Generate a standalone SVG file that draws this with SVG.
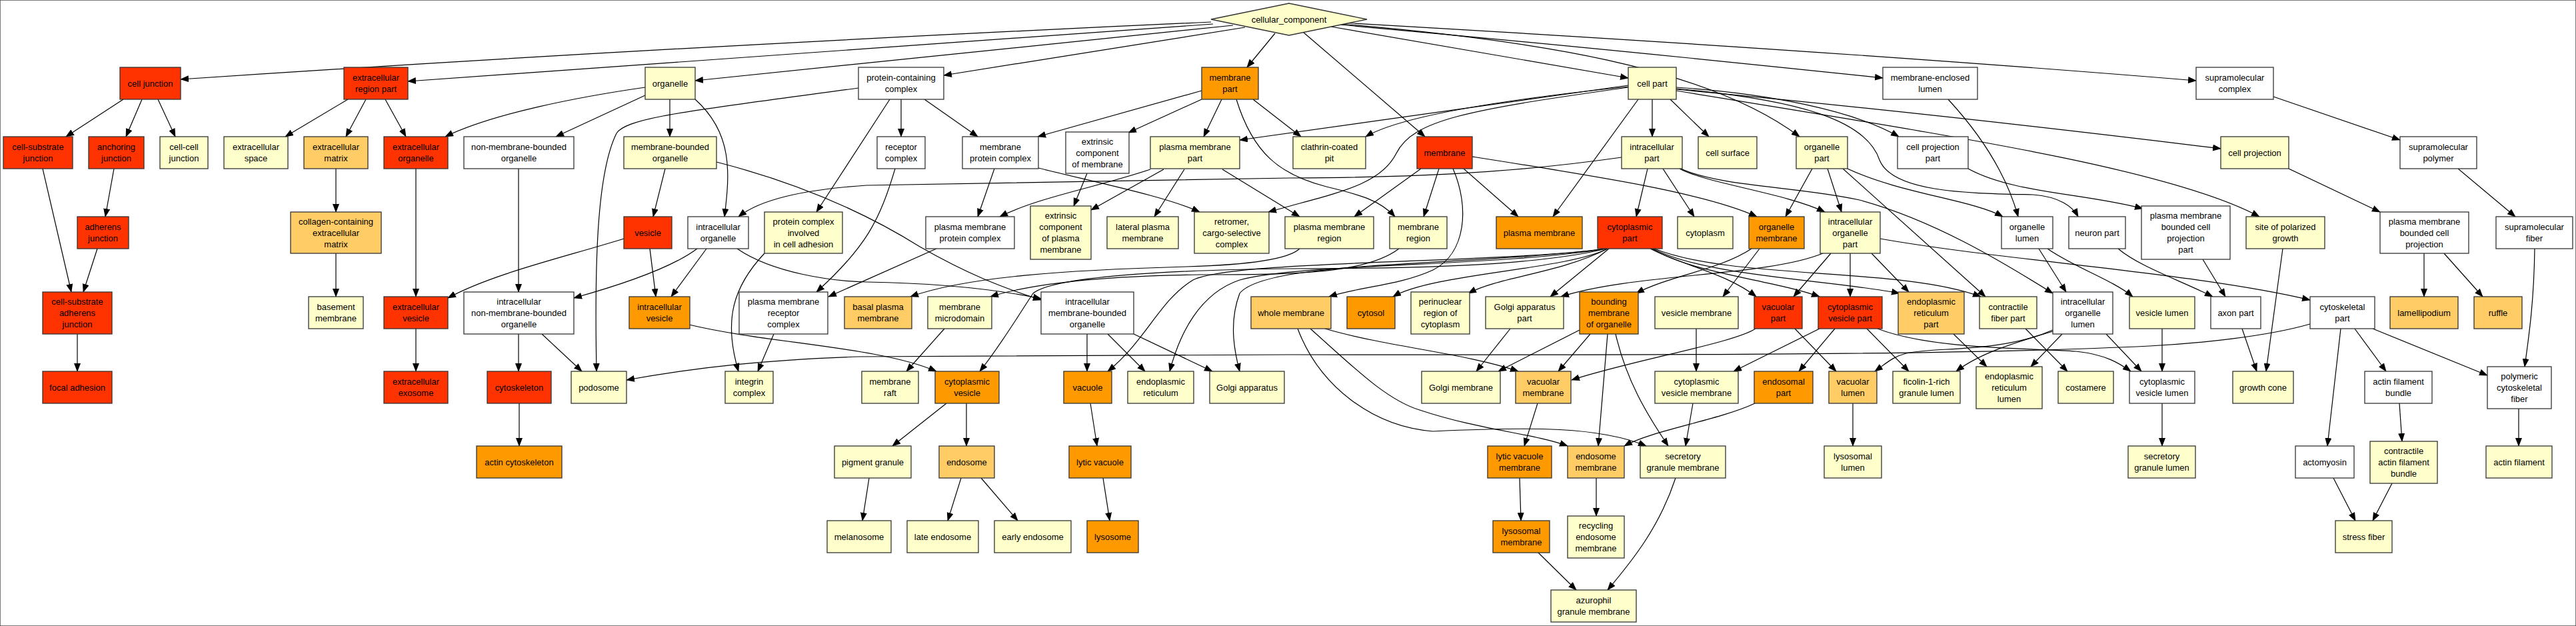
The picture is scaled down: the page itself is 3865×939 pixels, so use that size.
<svg xmlns="http://www.w3.org/2000/svg" width="3865" height="939" viewBox="0 0 3865 939">
<style>
rect,polygon{stroke:#333;stroke-width:1.3}
.r{fill:#FF3300}.o{fill:#FF9900}.lo{fill:#FFCC66}.y{fill:#FFFFCC}.w{fill:#FFFFFF}
text{font-family:"Liberation Sans",Arial,sans-serif;font-size:13px;text-anchor:middle;fill:#000}
#edges path{fill:none;stroke:#000;stroke-width:1.2;marker-end:url(#ah)}
</style>
<defs>
<marker id="ah" markerWidth="13" markerHeight="10" refX="12" refY="5" orient="auto" markerUnits="userSpaceOnUse"><path d="M0,0 L13,5 L0,10 z" fill="#000" stroke="none"/></marker>
</defs>
<rect x="0" y="0" width="3865" height="939" fill="#fff" stroke="none"/>
<g id="edges">
<path d="M1817,33 Q1000,70 271,119"/>
<path d="M1820,36 Q1100,85 612,122"/>
<path d="M1850,38 Q1500,75 1043,121"/>
<path d="M1868,41 L1416,113"/>
<path d="M1913,50 L1871,101"/>
<path d="M1955,48 L2138,205"/>
<path d="M1997,40 L2443,117"/>
<path d="M2009,37 Q2400,72 2825,117"/>
<path d="M2012,34 Q2750,76 3295,121"/>
<path d="M2012,36 C2300,60 2560,100 2700,205"/>
<path d="M185,149 L99,205"/>
<path d="M213,149 L189,205"/>
<path d="M237,149 L263,205"/>
<path d="M522,149 L428,205"/>
<path d="M549,149 L519,205"/>
<path d="M578,149 L609,205"/>
<path d="M968,131 C870,145 740,170 668,205"/>
<path d="M968,143 L834,205"/>
<path d="M1005,149 L1005,205"/>
<path d="M1043,149 C1100,200 1095,260 1087,325"/>
<path d="M1288,132 C1050,165 940,175 925,200 C895,260 892,400 895,557"/>
<path d="M1352,149 L1352,205"/>
<path d="M1387,149 L1467,205"/>
<path d="M1335,149 L1225,318"/>
<path d="M1803,136 L1557,205"/>
<path d="M1803,149 L1693,199"/>
<path d="M1833,149 L1806,205"/>
<path d="M1880,149 L1952,205"/>
<path d="M1855,149 C1880,230 1920,262 1990,280 C2040,292 2070,300 2093,325"/>
<path d="M2443,130 C2250,150 2100,175 2049,205"/>
<path d="M2443,128 L1860,210"/>
<path d="M2443,131 C2200,165 2120,180 2095,230 C2070,280 2000,290 1903,318"/>
<path d="M2479,149 L2479,205"/>
<path d="M2506,149 L2564,205"/>
<path d="M2458,149 L2330,325"/>
<path d="M2515,131 C2650,140 2780,165 2849,205"/>
<path d="M2515,133 C2700,150 2800,180 2820,240 C2840,290 2960,290 3050,292 C3090,295 3110,310 3118,325"/>
<path d="M2515,134 Q2900,170 3332,223"/>
<path d="M2515,136 C2900,200 3250,250 3390,325"/>
<path d="M2433,236 C2250,262 2100,266 1935,267 L1300,278 C1200,285 1140,300 1108,325"/>
<path d="M2472,253 L2455,325"/>
<path d="M2495,253 L2542,325"/>
<path d="M2520,253 C2560,275 2680,290 2738,318"/>
<path d="M2522,253 C2580,280 2700,280 2790,300 C2900,330 3000,390 3080,440"/>
<path d="M2132,253 L2032,325"/>
<path d="M2159,253 L2136,325"/>
<path d="M2196,253 L2278,325"/>
<path d="M2180,253 C2205,310 2200,380 2150,405 C2100,428 2040,430 1994,445"/>
<path d="M2209,235 C2400,265 2560,290 2636,325"/>
<path d="M3411,145 L3601,210"/>
<path d="M3434,253 L3571,318"/>
<path d="M3688,253 L3774,325"/>
<path d="M2719,253 L2679,325"/>
<path d="M2742,253 L2763,318"/>
<path d="M2765,253 L2979,445"/>
<path d="M2772,253 C2850,290 2960,300 3005,325"/>
<path d="M2923,149 C2970,200 3010,260 3028,325"/>
<path d="M2953,253 C3020,290 3130,290 3215,313"/>
<path d="M504,253 L504,318"/>
<path d="M624,253 L624,445"/>
<path d="M504,380 L504,445"/>
<path d="M64,253 L107,438"/>
<path d="M171,253 L158,325"/>
<path d="M146,373 L125,438"/>
<path d="M116,501 L116,557"/>
<path d="M624,493 L624,557"/>
<path d="M778,253 L778,438"/>
<path d="M998,253 L980,325"/>
<path d="M1075,243 C1200,275 1300,320 1380,370 C1450,410 1500,430 1562,450"/>
<path d="M1046,373 C1010,400 940,425 861,447"/>
<path d="M1060,373 L1007,445"/>
<path d="M1106,373 C1160,410 1250,422 1300,423 C1420,425 1500,435 1562,448"/>
<path d="M936,358 C850,385 740,410 672,447"/>
<path d="M975,373 L984,445"/>
<path d="M1147,380 C1100,430 1085,480 1108,557"/>
<path d="M1343,253 C1320,330 1300,370 1225,438"/>
<path d="M1405,373 L1243,445"/>
<path d="M1492,253 L1467,325"/>
<path d="M1558,252 C1650,275 1750,295 1800,318"/>
<path d="M1631,260 L1611,309"/>
<path d="M1746,254 L1637,315"/>
<path d="M1777,254 L1732,325"/>
<path d="M1726,254 C1650,280 1560,295 1500,325"/>
<path d="M1834,254 L1950,325"/>
<path d="M1950,373 C1930,392 1850,398 1780,400 C1600,405 1450,415 1366,445"/>
<path d="M2099,373 C2050,410 1950,412 1800,412 C1650,414 1550,425 1486,445"/>
<path d="M2412,373 C2350,405 2150,410 2090,445"/>
<path d="M2412,373 C2340,410 2250,415 2203,440"/>
<path d="M2414,373 L2326,445"/>
<path d="M2410,373 C2300,400 2100,403 1935,403 C1750,405 1580,415 1550,440 C1530,470 1500,520 1470,557"/>
<path d="M2410,373 C2250,395 1850,390 1790,420 C1740,450 1720,510 1662,557"/>
<path d="M2410,373 C2250,400 1950,395 1860,420 C1800,440 1770,500 1755,557"/>
<path d="M2410,373 C2200,400 1900,390 1860,440 C1845,480 1850,520 1860,557"/>
<path d="M2476,373 C2530,400 2590,410 2635,445"/>
<path d="M2478,373 C2540,410 2660,420 2730,445"/>
<path d="M2480,373 C2560,415 2750,420 2850,440"/>
<path d="M2482,373 C2600,420 2850,400 2972,445"/>
<path d="M2628,373 C2580,405 2500,415 2455,440"/>
<path d="M2640,373 L2585,445"/>
<path d="M2735,380 C2650,415 2450,410 2342,445"/>
<path d="M2747,380 L2691,445"/>
<path d="M2776,380 L2776,445"/>
<path d="M2808,380 L2864,438"/>
<path d="M2821,358 C3000,390 3300,410 3466,450"/>
<path d="M3059,373 L3100,438"/>
<path d="M3072,373 C3110,400 3170,420 3200,445"/>
<path d="M3178,373 C3210,400 3270,420 3320,445"/>
<path d="M3305,389 L3339,445"/>
<path d="M3425,373 L3400,557"/>
<path d="M3637,380 L3637,445"/>
<path d="M3667,380 L3725,445"/>
<path d="M3803,373 C3802,450 3795,500 3788,550"/>
<path d="M778,501 L778,557"/>
<path d="M813,501 L873,557"/>
<path d="M1161,501 L1137,557"/>
<path d="M1034,487 C1150,515 1320,520 1405,557"/>
<path d="M1417,493 L1360,557"/>
<path d="M1631,501 L1631,557"/>
<path d="M1662,501 L1718,557"/>
<path d="M1701,501 L1819,557"/>
<path d="M3466,486 C3400,505 3300,515 3225,519 C2900,535 2300,532 1935,532 L1290,535 C1150,540 1050,550 940,570"/>
<path d="M3512,493 L3492,669"/>
<path d="M3533,493 L3580,557"/>
<path d="M3560,493 L3732,563"/>
<path d="M3244,493 L3244,557"/>
<path d="M3364,493 L3386,557"/>
<path d="M1988,493 C2080,520 2200,530 2278,557"/>
<path d="M1966,493 C2030,550 2080,600 2130,615 C2220,645 2300,650 2352,669"/>
<path d="M1947,493 C1980,580 2060,640 2150,647 C2300,640 2400,640 2470,669"/>
<path d="M2266,493 L2215,557"/>
<path d="M2370,495 L2248,557"/>
<path d="M2386,501 L2338,557"/>
<path d="M2412,501 L2398,669"/>
<path d="M2424,501 C2440,570 2470,620 2503,669"/>
<path d="M2634,493 C2600,515 2450,540 2358,570"/>
<path d="M2693,493 L2755,557"/>
<path d="M2545,493 L2545,557"/>
<path d="M2730,493 L2601,557"/>
<path d="M2753,493 L2699,557"/>
<path d="M2801,493 L2864,557"/>
<path d="M2817,493 C2900,525 3050,522 3115,527 C3160,532 3180,545 3197,557"/>
<path d="M2931,501 L2981,550"/>
<path d="M3039,493 L3102,557"/>
<path d="M3094,501 L3047,550"/>
<path d="M3080,497 C3020,515 2970,530 2935,557"/>
<path d="M3080,495 C3000,530 2900,520 2860,530 C2840,535 2830,545 2813,557"/>
<path d="M3160,501 L3213,557"/>
<path d="M779,605 L779,669"/>
<path d="M1420,605 L1339,669"/>
<path d="M1450,605 L1450,669"/>
<path d="M1636,605 L1646,669"/>
<path d="M2307,605 L2287,669"/>
<path d="M2633,605 C2580,630 2480,645 2437,669"/>
<path d="M2540,605 L2529,669"/>
<path d="M2780,605 L2780,669"/>
<path d="M3244,605 L3244,669"/>
<path d="M3600,605 L3604,662"/>
<path d="M3779,613 L3779,669"/>
<path d="M1304,717 L1294,781"/>
<path d="M1442,717 L1422,781"/>
<path d="M1472,717 L1527,781"/>
<path d="M1655,717 L1665,781"/>
<path d="M2280,717 L2282,781"/>
<path d="M2395,717 L2395,774"/>
<path d="M3501,717 L3534,781"/>
<path d="M3589,725 L3560,781"/>
<path d="M2308,829 L2365,885"/>
<path d="M2514,717 C2490,790 2450,840 2412,885"/>
</g>
<g id="cellular_component"><polygon class="y" points="1817,29 1934,5 2051,29 1934,53"/><text x="1934" y="33.5">cellular_component</text></g>
<g id="cell_junction"><rect class="r" x="180" y="101" width="91" height="48"/><text x="225.5" y="129.5">cell junction</text></g>
<g id="extracellular_region_part"><rect class="r" x="516" y="101" width="96" height="48"/><text x="564" y="121">extracellular</text><text x="564" y="138">region part</text></g>
<g id="organelle"><rect class="y" x="968" y="101" width="75" height="48"/><text x="1005.5" y="129.5">organelle</text></g>
<g id="protein_containing_complex"><rect class="w" x="1288" y="101" width="128" height="48"/><text x="1352" y="121">protein-containing</text><text x="1352" y="138">complex</text></g>
<g id="membrane_part"><rect class="o" x="1803" y="101" width="85" height="48"/><text x="1845.5" y="121">membrane</text><text x="1845.5" y="138">part</text></g>
<g id="cell_part"><rect class="y" x="2443" y="101" width="72" height="48"/><text x="2479" y="129.5">cell part</text></g>
<g id="membrane_enclosed_lumen"><rect class="w" x="2825" y="101" width="142" height="48"/><text x="2896" y="121">membrane-enclosed</text><text x="2896" y="138">lumen</text></g>
<g id="supramolecular_complex"><rect class="w" x="3295" y="101" width="116" height="48"/><text x="3353" y="121">supramolecular</text><text x="3353" y="138">complex</text></g>
<g id="cell_substrate_junction"><rect class="r" x="5" y="205" width="104" height="48"/><text x="57" y="225">cell-substrate</text><text x="57" y="242">junction</text></g>
<g id="anchoring_junction"><rect class="r" x="133" y="205" width="83" height="48"/><text x="174.5" y="225">anchoring</text><text x="174.5" y="242">junction</text></g>
<g id="cell_cell_junction"><rect class="y" x="240" y="205" width="72" height="48"/><text x="276" y="225">cell-cell</text><text x="276" y="242">junction</text></g>
<g id="extracellular_space"><rect class="y" x="336" y="205" width="96" height="48"/><text x="384" y="225">extracellular</text><text x="384" y="242">space</text></g>
<g id="extracellular_matrix"><rect class="lo" x="456" y="205" width="96" height="48"/><text x="504" y="225">extracellular</text><text x="504" y="242">matrix</text></g>
<g id="extracellular_organelle"><rect class="r" x="576" y="205" width="96" height="48"/><text x="624" y="225">extracellular</text><text x="624" y="242">organelle</text></g>
<g id="non_membrane_bounded_organelle"><rect class="w" x="696" y="205" width="165" height="48"/><text x="778.5" y="225">non-membrane-bounded</text><text x="778.5" y="242">organelle</text></g>
<g id="membrane_bounded_organelle"><rect class="y" x="936" y="205" width="139" height="48"/><text x="1005.5" y="225">membrane-bounded</text><text x="1005.5" y="242">organelle</text></g>
<g id="receptor_complex"><rect class="w" x="1316" y="205" width="72" height="48"/><text x="1352" y="225">receptor</text><text x="1352" y="242">complex</text></g>
<g id="membrane_protein_complex"><rect class="w" x="1444" y="205" width="114" height="48"/><text x="1501" y="225">membrane</text><text x="1501" y="242">protein complex</text></g>
<g id="extrinsic_component_of_membrane"><rect class="w" x="1599" y="198" width="95" height="62"/><text x="1646.5" y="216.5">extrinsic</text><text x="1646.5" y="233.5">component</text><text x="1646.5" y="250.5">of membrane</text></g>
<g id="plasma_membrane_part"><rect class="y" x="1726" y="205" width="134" height="48"/><text x="1793" y="225">plasma membrane</text><text x="1793" y="242">part</text></g>
<g id="clathrin_coated_pit"><rect class="y" x="1940" y="205" width="109" height="48"/><text x="1994.5" y="225">clathrin-coated</text><text x="1994.5" y="242">pit</text></g>
<g id="membrane"><rect class="r" x="2126" y="205" width="83" height="48"/><text x="2167.5" y="233.5">membrane</text></g>
<g id="intracellular_part"><rect class="y" x="2433" y="205" width="91" height="48"/><text x="2478.5" y="225">intracellular</text><text x="2478.5" y="242">part</text></g>
<g id="cell_surface"><rect class="y" x="2548" y="205" width="88" height="48"/><text x="2592" y="233.5">cell surface</text></g>
<g id="organelle_part"><rect class="y" x="2695" y="205" width="77" height="48"/><text x="2733.5" y="225">organelle</text><text x="2733.5" y="242">part</text></g>
<g id="cell_projection_part"><rect class="w" x="2847" y="205" width="106" height="48"/><text x="2900" y="225">cell projection</text><text x="2900" y="242">part</text></g>
<g id="cell_projection"><rect class="y" x="3332" y="205" width="102" height="48"/><text x="3383" y="233.5">cell projection</text></g>
<g id="supramolecular_polymer"><rect class="w" x="3601" y="205" width="115" height="48"/><text x="3658.5" y="225">supramolecular</text><text x="3658.5" y="242">polymer</text></g>
<g id="adherens_junction"><rect class="r" x="116" y="325" width="77" height="48"/><text x="154.5" y="345">adherens</text><text x="154.5" y="362">junction</text></g>
<g id="collagen_containing_extracellular_matrix"><rect class="lo" x="436" y="318" width="136" height="62"/><text x="504" y="336.5">collagen-containing</text><text x="504" y="353.5">extracellular</text><text x="504" y="370.5">matrix</text></g>
<g id="vesicle"><rect class="r" x="936" y="325" width="72" height="48"/><text x="972" y="353.5">vesicle</text></g>
<g id="intracellular_organelle"><rect class="w" x="1032" y="325" width="91" height="48"/><text x="1077.5" y="345">intracellular</text><text x="1077.5" y="362">organelle</text></g>
<g id="protein_complex_involved_in_cell_adhesion"><rect class="y" x="1147" y="318" width="117" height="62"/><text x="1205.5" y="336.5">protein complex</text><text x="1205.5" y="353.5">involved</text><text x="1205.5" y="370.5">in cell adhesion</text></g>
<g id="plasma_membrane_protein_complex"><rect class="w" x="1389" y="325" width="133" height="48"/><text x="1455.5" y="345">plasma membrane</text><text x="1455.5" y="362">protein complex</text></g>
<g id="extrinsic_component_of_plasma_membrane"><rect class="y" x="1546" y="309" width="91" height="80"/><text x="1591.5" y="328">extrinsic</text><text x="1591.5" y="345">component</text><text x="1591.5" y="362">of plasma</text><text x="1591.5" y="379">membrane</text></g>
<g id="lateral_plasma_membrane"><rect class="y" x="1661" y="325" width="107" height="48"/><text x="1714.5" y="345">lateral plasma</text><text x="1714.5" y="362">membrane</text></g>
<g id="retromer_cargo_selective_complex"><rect class="y" x="1792" y="318" width="112" height="62"/><text x="1848" y="336.5">retromer,</text><text x="1848" y="353.5">cargo-selective</text><text x="1848" y="370.5">complex</text></g>
<g id="plasma_membrane_region"><rect class="y" x="1928" y="325" width="133" height="48"/><text x="1994.5" y="345">plasma membrane</text><text x="1994.5" y="362">region</text></g>
<g id="membrane_region"><rect class="y" x="2085" y="325" width="86" height="48"/><text x="2128" y="345">membrane</text><text x="2128" y="362">region</text></g>
<g id="plasma_membrane"><rect class="o" x="2245" y="325" width="129" height="48"/><text x="2309.5" y="353.5">plasma membrane</text></g>
<g id="cytoplasmic_part"><rect class="r" x="2397" y="325" width="97" height="48"/><text x="2445.5" y="345">cytoplasmic</text><text x="2445.5" y="362">part</text></g>
<g id="cytoplasm"><rect class="y" x="2517" y="325" width="83" height="48"/><text x="2558.5" y="353.5">cytoplasm</text></g>
<g id="organelle_membrane"><rect class="o" x="2624" y="325" width="83" height="48"/><text x="2665.5" y="345">organelle</text><text x="2665.5" y="362">membrane</text></g>
<g id="intracellular_organelle_part"><rect class="y" x="2731" y="318" width="90" height="62"/><text x="2776" y="336.5">intracellular</text><text x="2776" y="353.5">organelle</text><text x="2776" y="370.5">part</text></g>
<g id="organelle_lumen"><rect class="w" x="3003" y="325" width="77" height="48"/><text x="3041.5" y="345">organelle</text><text x="3041.5" y="362">lumen</text></g>
<g id="neuron_part"><rect class="w" x="3104" y="325" width="85" height="48"/><text x="3146.5" y="353.5">neuron part</text></g>
<g id="plasma_membrane_bounded_cell_projection_part"><rect class="w" x="3213" y="309" width="133" height="80"/><text x="3279.5" y="328">plasma membrane</text><text x="3279.5" y="345">bounded cell</text><text x="3279.5" y="362">projection</text><text x="3279.5" y="379">part</text></g>
<g id="site_of_polarized_growth"><rect class="y" x="3370" y="325" width="118" height="48"/><text x="3429" y="345">site of polarized</text><text x="3429" y="362">growth</text></g>
<g id="plasma_membrane_bounded_cell_projection"><rect class="w" x="3571" y="318" width="133" height="62"/><text x="3637.5" y="336.5">plasma membrane</text><text x="3637.5" y="353.5">bounded cell</text><text x="3637.5" y="370.5">projection</text></g>
<g id="supramolecular_fiber"><rect class="w" x="3745" y="325" width="115" height="48"/><text x="3802.5" y="345">supramolecular</text><text x="3802.5" y="362">fiber</text></g>
<g id="cell_substrate_adherens_junction"><rect class="r" x="64" y="438" width="104" height="63"/><text x="116" y="457">cell-substrate</text><text x="116" y="474">adherens</text><text x="116" y="491">junction</text></g>
<g id="basement_membrane"><rect class="y" x="463" y="445" width="82" height="48"/><text x="504" y="465">basement</text><text x="504" y="482">membrane</text></g>
<g id="extracellular_vesicle"><rect class="r" x="576" y="445" width="96" height="48"/><text x="624" y="465">extracellular</text><text x="624" y="482">vesicle</text></g>
<g id="intracellular_non_membrane_bounded_organelle"><rect class="w" x="696" y="438" width="165" height="63"/><text x="778.5" y="457">intracellular</text><text x="778.5" y="474">non-membrane-bounded</text><text x="778.5" y="491">organelle</text></g>
<g id="intracellular_vesicle"><rect class="o" x="944" y="445" width="91" height="48"/><text x="989.5" y="465">intracellular</text><text x="989.5" y="482">vesicle</text></g>
<g id="plasma_membrane_receptor_complex"><rect class="w" x="1109" y="438" width="133" height="63"/><text x="1175.5" y="457">plasma membrane</text><text x="1175.5" y="474">receptor</text><text x="1175.5" y="491">complex</text></g>
<g id="basal_plasma_membrane"><rect class="lo" x="1267" y="445" width="101" height="48"/><text x="1317.5" y="465">basal plasma</text><text x="1317.5" y="482">membrane</text></g>
<g id="membrane_microdomain"><rect class="y" x="1392" y="445" width="96" height="48"/><text x="1440" y="465">membrane</text><text x="1440" y="482">microdomain</text></g>
<g id="intracellular_membrane_bounded_organelle"><rect class="w" x="1562" y="438" width="139" height="63"/><text x="1631.5" y="457">intracellular</text><text x="1631.5" y="474">membrane-bounded</text><text x="1631.5" y="491">organelle</text></g>
<g id="whole_membrane"><rect class="lo" x="1877" y="445" width="120" height="48"/><text x="1937" y="473.5">whole membrane</text></g>
<g id="cytosol"><rect class="o" x="2021" y="445" width="72" height="48"/><text x="2057" y="473.5">cytosol</text></g>
<g id="perinuclear_region_of_cytoplasm"><rect class="y" x="2117" y="438" width="88" height="63"/><text x="2161" y="457">perinuclear</text><text x="2161" y="474">region of</text><text x="2161" y="491">cytoplasm</text></g>
<g id="golgi_apparatus_part"><rect class="y" x="2229" y="445" width="117" height="48"/><text x="2287.5" y="465">Golgi apparatus</text><text x="2287.5" y="482">part</text></g>
<g id="bounding_membrane_of_organelle"><rect class="o" x="2370" y="438" width="88" height="63"/><text x="2414" y="457">bounding</text><text x="2414" y="474">membrane</text><text x="2414" y="491">of organelle</text></g>
<g id="vesicle_membrane"><rect class="y" x="2483" y="445" width="125" height="48"/><text x="2545.5" y="473.5">vesicle membrane</text></g>
<g id="vacuolar_part"><rect class="r" x="2632" y="445" width="72" height="48"/><text x="2668" y="465">vacuolar</text><text x="2668" y="482">part</text></g>
<g id="cytoplasmic_vesicle_part"><rect class="r" x="2728" y="445" width="96" height="48"/><text x="2776" y="465">cytoplasmic</text><text x="2776" y="482">vesicle part</text></g>
<g id="endoplasmic_reticulum_part"><rect class="lo" x="2848" y="438" width="99" height="63"/><text x="2897.5" y="457">endoplasmic</text><text x="2897.5" y="474">reticulum</text><text x="2897.5" y="491">part</text></g>
<g id="contractile_fiber_part"><rect class="y" x="2970" y="445" width="86" height="48"/><text x="3013" y="465">contractile</text><text x="3013" y="482">fiber part</text></g>
<g id="intracellular_organelle_lumen"><rect class="w" x="3080" y="438" width="90" height="63"/><text x="3125" y="457">intracellular</text><text x="3125" y="474">organelle</text><text x="3125" y="491">lumen</text></g>
<g id="vesicle_lumen"><rect class="y" x="3195" y="445" width="98" height="48"/><text x="3244" y="473.5">vesicle lumen</text></g>
<g id="axon_part"><rect class="w" x="3317" y="445" width="75" height="48"/><text x="3354.5" y="473.5">axon part</text></g>
<g id="cytoskeletal_part"><rect class="w" x="3466" y="445" width="97" height="48"/><text x="3514.5" y="465">cytoskeletal</text><text x="3514.5" y="482">part</text></g>
<g id="lamellipodium"><rect class="lo" x="3586" y="445" width="102" height="48"/><text x="3637" y="473.5">lamellipodium</text></g>
<g id="ruffle"><rect class="lo" x="3712" y="445" width="72" height="48"/><text x="3748" y="473.5">ruffle</text></g>
<g id="focal_adhesion"><rect class="r" x="64" y="557" width="104" height="48"/><text x="116" y="585.5">focal adhesion</text></g>
<g id="extracellular_exosome"><rect class="r" x="576" y="557" width="96" height="48"/><text x="624" y="577">extracellular</text><text x="624" y="594">exosome</text></g>
<g id="cytoskeleton"><rect class="r" x="731" y="557" width="96" height="48"/><text x="779" y="585.5">cytoskeleton</text></g>
<g id="podosome"><rect class="y" x="857" y="557" width="83" height="48"/><text x="898.5" y="585.5">podosome</text></g>
<g id="integrin_complex"><rect class="y" x="1088" y="557" width="72" height="48"/><text x="1124" y="577">integrin</text><text x="1124" y="594">complex</text></g>
<g id="membrane_raft"><rect class="y" x="1293" y="557" width="85" height="48"/><text x="1335.5" y="577">membrane</text><text x="1335.5" y="594">raft</text></g>
<g id="cytoplasmic_vesicle"><rect class="o" x="1403" y="557" width="96" height="48"/><text x="1451" y="577">cytoplasmic</text><text x="1451" y="594">vesicle</text></g>
<g id="vacuole"><rect class="o" x="1596" y="557" width="72" height="48"/><text x="1632" y="585.5">vacuole</text></g>
<g id="endoplasmic_reticulum"><rect class="y" x="1692" y="557" width="99" height="48"/><text x="1741.5" y="577">endoplasmic</text><text x="1741.5" y="594">reticulum</text></g>
<g id="golgi_apparatus"><rect class="y" x="1815" y="557" width="112" height="48"/><text x="1871" y="585.5">Golgi apparatus</text></g>
<g id="golgi_membrane"><rect class="y" x="2133" y="557" width="118" height="48"/><text x="2192" y="585.5">Golgi membrane</text></g>
<g id="vacuolar_membrane"><rect class="lo" x="2274" y="557" width="83" height="48"/><text x="2315.5" y="577">vacuolar</text><text x="2315.5" y="594">membrane</text></g>
<g id="cytoplasmic_vesicle_membrane"><rect class="y" x="2483" y="557" width="125" height="48"/><text x="2545.5" y="577">cytoplasmic</text><text x="2545.5" y="594">vesicle membrane</text></g>
<g id="endosomal_part"><rect class="o" x="2632" y="557" width="88" height="48"/><text x="2676" y="577">endosomal</text><text x="2676" y="594">part</text></g>
<g id="vacuolar_lumen"><rect class="lo" x="2744" y="557" width="72" height="48"/><text x="2780" y="577">vacuolar</text><text x="2780" y="594">lumen</text></g>
<g id="ficolin_1_rich_granule_lumen"><rect class="y" x="2840" y="557" width="101" height="48"/><text x="2890.5" y="577">ficolin-1-rich</text><text x="2890.5" y="594">granule lumen</text></g>
<g id="endoplasmic_reticulum_lumen"><rect class="y" x="2965" y="550" width="99" height="63"/><text x="3014.5" y="569">endoplasmic</text><text x="3014.5" y="586">reticulum</text><text x="3014.5" y="603">lumen</text></g>
<g id="costamere"><rect class="y" x="3088" y="557" width="83" height="48"/><text x="3129.5" y="585.5">costamere</text></g>
<g id="cytoplasmic_vesicle_lumen"><rect class="w" x="3195" y="557" width="98" height="48"/><text x="3244" y="577">cytoplasmic</text><text x="3244" y="594">vesicle lumen</text></g>
<g id="growth_cone"><rect class="y" x="3350" y="557" width="91" height="48"/><text x="3395.5" y="585.5">growth cone</text></g>
<g id="actin_filament_bundle"><rect class="w" x="3548" y="557" width="101" height="48"/><text x="3598.5" y="577">actin filament</text><text x="3598.5" y="594">bundle</text></g>
<g id="polymeric_cytoskeletal_fiber"><rect class="w" x="3732" y="550" width="96" height="63"/><text x="3780" y="569">polymeric</text><text x="3780" y="586">cytoskeletal</text><text x="3780" y="603">fiber</text></g>
<g id="actin_cytoskeleton"><rect class="o" x="715" y="669" width="128" height="48"/><text x="779" y="697.5">actin cytoskeleton</text></g>
<g id="pigment_granule"><rect class="y" x="1252" y="669" width="115" height="48"/><text x="1309.5" y="697.5">pigment granule</text></g>
<g id="endosome"><rect class="lo" x="1409" y="669" width="83" height="48"/><text x="1450.5" y="697.5">endosome</text></g>
<g id="lytic_vacuole"><rect class="o" x="1604" y="669" width="93" height="48"/><text x="1650.5" y="697.5">lytic vacuole</text></g>
<g id="lytic_vacuole_membrane"><rect class="o" x="2232" y="669" width="96" height="48"/><text x="2280" y="689">lytic vacuole</text><text x="2280" y="706">membrane</text></g>
<g id="endosome_membrane"><rect class="lo" x="2352" y="669" width="85" height="48"/><text x="2394.5" y="689">endosome</text><text x="2394.5" y="706">membrane</text></g>
<g id="secretory_granule_membrane"><rect class="y" x="2461" y="669" width="128" height="48"/><text x="2525" y="689">secretory</text><text x="2525" y="706">granule membrane</text></g>
<g id="lysosomal_lumen"><rect class="y" x="2737" y="669" width="86" height="48"/><text x="2780" y="689">lysosomal</text><text x="2780" y="706">lumen</text></g>
<g id="secretory_granule_lumen"><rect class="y" x="3193" y="669" width="101" height="48"/><text x="3243.5" y="689">secretory</text><text x="3243.5" y="706">granule lumen</text></g>
<g id="actomyosin"><rect class="w" x="3444" y="669" width="88" height="48"/><text x="3488" y="697.5">actomyosin</text></g>
<g id="contractile_actin_filament_bundle"><rect class="y" x="3556" y="662" width="101" height="63"/><text x="3606.5" y="681">contractile</text><text x="3606.5" y="698">actin filament</text><text x="3606.5" y="715">bundle</text></g>
<g id="actin_filament"><rect class="y" x="3730" y="669" width="99" height="48"/><text x="3779.5" y="697.5">actin filament</text></g>
<g id="melanosome"><rect class="y" x="1241" y="781" width="96" height="48"/><text x="1289" y="809.5">melanosome</text></g>
<g id="late_endosome"><rect class="y" x="1361" y="781" width="107" height="48"/><text x="1414.5" y="809.5">late endosome</text></g>
<g id="early_endosome"><rect class="y" x="1492" y="781" width="115" height="48"/><text x="1549.5" y="809.5">early endosome</text></g>
<g id="lysosome"><rect class="o" x="1631" y="781" width="77" height="48"/><text x="1669.5" y="809.5">lysosome</text></g>
<g id="lysosomal_membrane"><rect class="o" x="2240" y="781" width="85" height="48"/><text x="2282.5" y="801">lysosomal</text><text x="2282.5" y="818">membrane</text></g>
<g id="recycling_endosome_membrane"><rect class="y" x="2352" y="774" width="85" height="63"/><text x="2394.5" y="793">recycling</text><text x="2394.5" y="810">endosome</text><text x="2394.5" y="827">membrane</text></g>
<g id="stress_fiber"><rect class="y" x="3504" y="781" width="85" height="48"/><text x="3546.5" y="809.5">stress fiber</text></g>
<g id="azurophil_granule_membrane"><rect class="y" x="2327" y="885" width="128" height="48"/><text x="2391" y="905">azurophil</text><text x="2391" y="922">granule membrane</text></g>
</svg>
